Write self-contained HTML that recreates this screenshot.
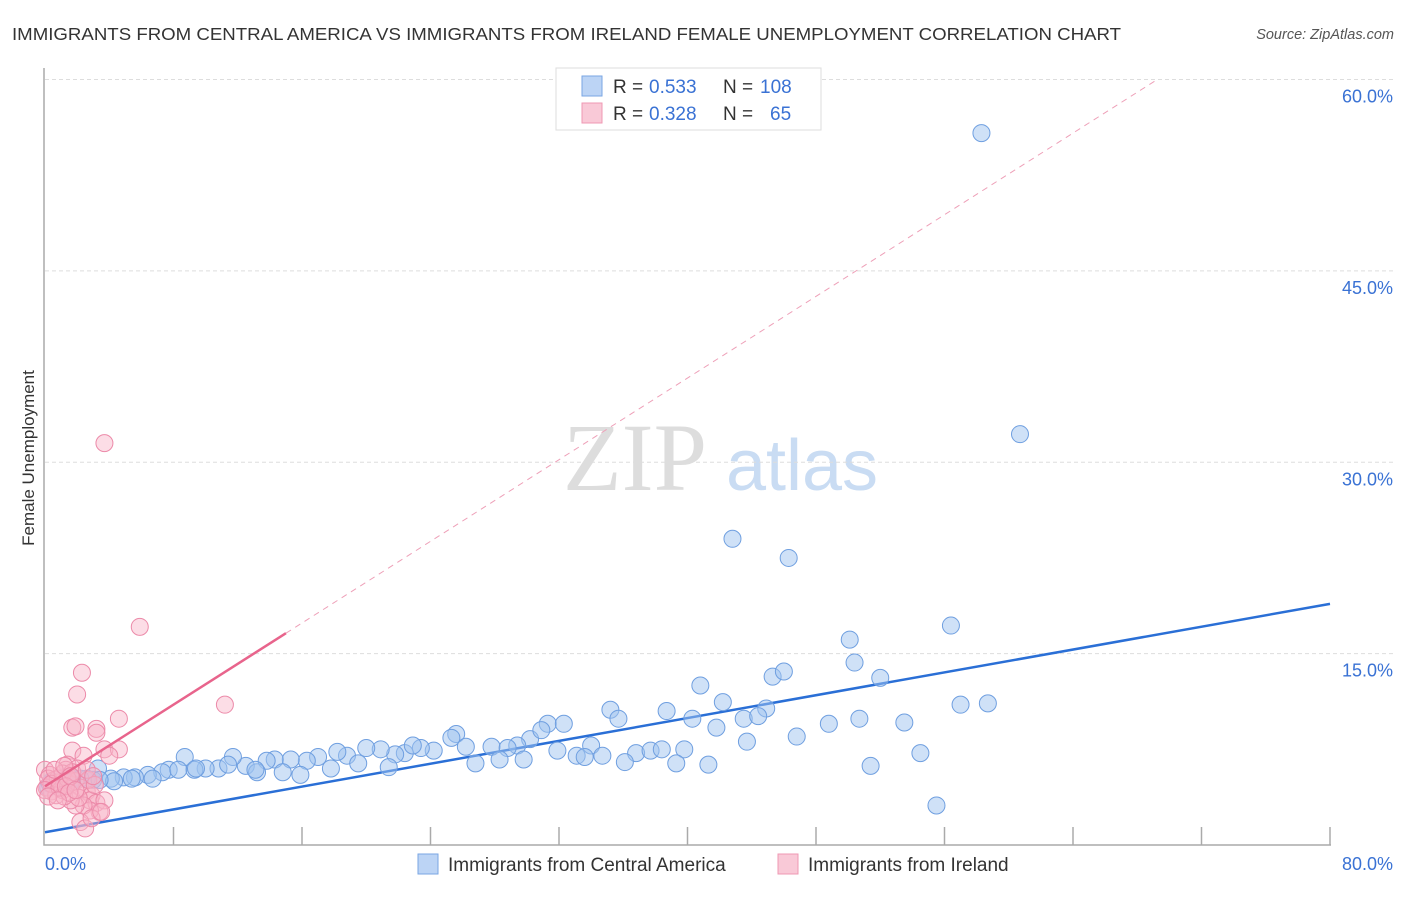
<!DOCTYPE html>
<html><head><meta charset="utf-8"><style>
body{margin:0;background:#fff;width:1406px;height:892px;overflow:hidden;font-family:"Liberation Sans",sans-serif}
</style></head><body>
<svg id="chart" width="1406" height="892" xmlns="http://www.w3.org/2000/svg">
<text x="12" y="40" font-size="17.5" fill="#333" textLength="1109" lengthAdjust="spacingAndGlyphs">IMMIGRANTS FROM CENTRAL AMERICA VS IMMIGRANTS FROM IRELAND FEMALE UNEMPLOYMENT CORRELATION CHART</text>
<text x="1394" y="39" font-size="14.5" fill="#555" font-style="italic" text-anchor="end">Source: ZipAtlas.com</text>
<text x="34" y="458" font-size="17" fill="#333" text-anchor="middle" transform="rotate(-90 34 458)">Female Unemployment</text>
<g>
<text x="635" y="490" font-size="96" fill="#ddd" font-family="Liberation Serif,serif" text-anchor="middle">ZIP</text>
<text x="802" y="490" font-size="72" fill="#c9dcf3" text-anchor="middle">atlas</text>
</g>
<g id="grid"></g><g id="axes"></g><g id="lines"></g><g id="pts"></g>
<g>
<rect x="556" y="68" width="265" height="62" fill="#fff" stroke="#ddd"/>
<rect x="582" y="76" width="20" height="20" fill="#bcd4f5" stroke="#7aa6e3"/>
<rect x="582" y="103" width="20" height="20" fill="#f9c9d7" stroke="#ef98b3"/>
<text x="613" y="93" font-size="19" fill="#333">R =</text>
<text x="649" y="93" font-size="19" fill="#3a72d4">0.533</text>
<text x="723" y="93" font-size="19" fill="#333">N =</text>
<text x="760" y="93" font-size="19" fill="#3a72d4">108</text>
<text x="613" y="120" font-size="19" fill="#333">R =</text>
<text x="649" y="120" font-size="19" fill="#3a72d4">0.328</text>
<text x="723" y="120" font-size="19" fill="#333">N =</text>
<text x="770" y="120" font-size="19" fill="#3a72d4">65</text>
</g>
<g>
<rect x="418" y="854" width="20" height="20" fill="#bcd4f5" stroke="#7aa6e3"/>
<text x="448" y="871" font-size="19" fill="#333">Immigrants from Central America</text>
<rect x="778" y="854" width="20" height="20" fill="#f9c9d7" stroke="#ef98b3"/>
<text x="808" y="871" font-size="19" fill="#333">Immigrants from Ireland</text>
</g>
</svg>
<script>
const yTicks=[15,30,45,60];
const yTickLabels=["15.0%","30.0%","45.0%","60.0%"];
const xTicks=[0,8,16,24,32,40,48,56,64,72,80];
const blueX=[58.3,60.7,42.8,46.3,50.1,56.4,50.4,45.3,46.0,52.0,40.8,35.2,42.2,57.0,58.7,35.7,38.7,44.9,40.3,43.5,44.4,48.8,50.7,53.5,41.8,31.3,32.3,46.8,43.7,54.5,39.8,36.8,37.7,38.4,34.0,31.9,33.1,34.7,30.2,30.9,25.6,25.3,27.8,29.4,28.8,26.2,24.2,23.4,22.4,21.8,20.9,20.0,18.8,18.2,17.0,16.3,15.3,14.3,13.8,12.5,11.7,10.8,10.0,9.3,8.7,7.7,7.3,6.4,5.6,4.9,4.1,3.3,3.0,2.6,1.7,1.2,0.7,0.4,0.7,0.2,29.8,33.6,36.1,39.3,41.3,51.4,55.5,26.8,28.3,21.4,15.9,13.2,11.4,9.4,8.3,6.7,5.4,4.3,3.4,2.2,1.6,1.0,0.3,22.9,19.5,17.8,14.8,13.1];
const blueY=[55.8,32.2,24.0,22.5,16.1,17.2,14.3,13.2,13.6,13.1,12.5,10.6,11.2,11.0,11.1,9.9,10.5,10.7,9.9,9.9,10.1,9.5,9.9,9.6,9.2,9.5,9.5,8.5,8.1,7.2,7.5,7.2,7.4,7.5,7.8,7.4,7.0,7.0,8.3,9.0,8.7,8.4,7.7,7.8,7.6,7.7,7.4,7.6,7.2,7.1,7.5,7.6,7.0,7.3,6.9,6.6,6.7,6.7,6.6,6.2,6.9,6.0,6.0,5.9,6.9,5.9,5.7,5.5,5.3,5.3,5.2,6.0,5.1,5.2,5.2,5.3,4.9,5.0,4.7,4.5,6.7,6.9,6.5,6.4,6.3,6.2,3.1,6.4,6.7,6.1,5.5,5.7,6.3,6.0,5.9,5.2,5.2,5.0,5.1,5.2,4.9,4.6,4.8,7.8,6.4,6.0,5.7,5.9];
const pinkX=[3.7,5.9,2.3,2.0,11.2,4.6,1.7,1.9,3.2,3.2,1.7,2.4,3.7,4.6,4.0,1.4,1.3,2.0,0.0,0.3,0.6,0.9,0.1,0.4,0.7,1.1,1.6,1.9,2.2,2.6,2.9,2.8,3.2,3.7,3.4,2.8,2.4,1.9,1.6,1.2,2.2,2.5,2.9,0.8,0.2,0.4,1.1,1.4,1.7,2.7,0.0,0.9,1.3,2.1,3.5,3.1,0.6,1.2,1.6,2.6,0.2,1.5,1.9,0.8,3.0];
const pinkY=[31.5,17.1,13.5,11.8,11.0,9.9,9.2,9.3,9.1,8.8,7.4,7.0,7.5,7.5,7.0,6.3,5.9,6.0,5.9,5.5,5.1,4.9,4.5,4.2,3.9,4.3,4.7,5.0,4.5,4.2,3.9,3.5,3.3,3.5,2.6,2.7,3.1,3.1,3.5,3.8,1.8,1.3,2.1,5.2,5.2,4.8,5.6,5.2,5.7,5.1,4.3,4.5,4.6,3.7,2.6,4.7,5.9,6.2,5.4,5.9,3.8,4.1,4.3,3.5,5.4];
const blueFit=[1.0,18.9];
const pinkFit=[4.6,0.80];
const pinkSolidEnd=15;

const sx=v=>45+v*(1285/80);
const sy=v=>845-v*(765.5/60);
const NS="http://www.w3.org/2000/svg";
function mk(tag,attrs,parent){const e=document.createElementNS(NS,tag);for(const k in attrs)e.setAttribute(k,attrs[k]);document.getElementById(parent).appendChild(e);return e;}
yTicks.forEach((t,i)=>{
 const g=mk('line',{x1:45,x2:1393,y1:sy(t),y2:sy(t),stroke:'#ddd','stroke-dasharray':'4 3'},'grid');
 
 
 const l=mk('text',{x:1393,y:sy(t)+23,'font-size':18,fill:'#3a72d4','text-anchor':'end'},'grid');
 l.textContent=yTickLabels[i];
 
 
});
const ax=mk('path',{d:`M44 68V845H1331`,fill:'none',stroke:'#aaa','stroke-width':1.5},'axes');


xTicks.forEach(t=>{
 if(t===0)return;
 const tk=mk('line',{x1:sx(t),x2:sx(t),y1:827,y2:845,stroke:'#aaa','stroke-width':1.5},'axes');
 
 
});
const x0=mk('text',{x:45,y:870,'font-size':18,fill:'#3a72d4'},'axes');x0.textContent='0.0%';


const x1=mk('text',{x:1393,y:870,'font-size':18,fill:'#3a72d4','text-anchor':'end'},'axes');x1.textContent='80.0%';


const pd=mk('line',{x1:sx(pinkSolidEnd),y1:sy(pinkFit[0]+pinkFit[1]*pinkSolidEnd),x2:sx((60-pinkFit[0])/pinkFit[1]),y2:sy(60),stroke:'#eea0b8','stroke-width':1,'stroke-dasharray':'6 5'},'lines');


const bl=mk('line',{x1:sx(0),y1:sy(blueFit[0]),x2:sx(80),y2:sy(blueFit[1]),stroke:'#2a6fd6','stroke-width':2.5},'lines');


blueX.forEach((x,i)=>{
 const c=mk('circle',{cx:sx(x),cy:sy(blueY[i]),r:8.5,fill:'rgba(160,196,240,0.5)',stroke:'#6f9fe0','stroke-width':1},'pts');
 
 
});
pinkX.forEach((x,i)=>{
 const c=mk('circle',{cx:sx(x),cy:sy(pinkY[i]),r:8.5,fill:'rgba(248,180,200,0.45)',stroke:'#ec8aa9','stroke-width':1},'pts');
 
 
});
const ps=mk('line',{x1:sx(0),y1:sy(pinkFit[0]),x2:sx(pinkSolidEnd),y2:sy(pinkFit[0]+pinkFit[1]*pinkSolidEnd),stroke:'#e8648c','stroke-width':2.5},'pts');


</script>
</body></html>
